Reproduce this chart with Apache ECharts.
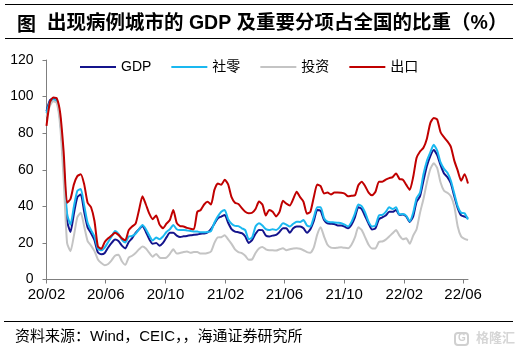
<!DOCTYPE html>
<html><head><meta charset="utf-8">
<script src="https://cdn.jsdelivr.net/npm/echarts@6/dist/echarts.min.js"></script>
<style>html,body{margin:0;padding:0;background:#fff}#c{width:530px;height:357px}</style>
</head><body><div id="c"></div>
<script>
const seriesNames = ['GDP', '社零', '投资', '出口'];
const tickDates = ['2020-02-01','2020-06-01','2020-10-01','2021-02-01','2021-06-01','2021-10-01','2022-02-01','2022-06-01'];
const tickLabels = ['20/02','20/06','20/10','21/02','21/06','21/10','22/02','22/06'];
const yTicks = [0, 20, 40, 60, 80, 100, 120];
const dates = [
'2020-02-01','2020-02-08','2020-02-15','2020-02-22','2020-02-29','2020-03-07','2020-03-14','2020-03-21','2020-03-28','2020-04-04','2020-04-11','2020-04-18','2020-04-25','2020-05-02','2020-05-09','2020-05-16','2020-05-23','2020-05-30','2020-06-06','2020-06-13','2020-06-20','2020-06-27','2020-07-04','2020-07-11','2020-07-18','2020-07-25','2020-08-01','2020-08-08','2020-08-15','2020-08-22','2020-08-29','2020-09-05','2020-09-12','2020-09-19','2020-09-26','2020-10-03','2020-10-10','2020-10-17','2020-10-24','2020-10-31','2020-11-07','2020-11-14','2020-11-21','2020-11-28','2020-12-05','2020-12-12','2020-12-19','2020-12-26',
'2021-01-02','2021-01-09','2021-01-16','2021-01-23','2021-01-30','2021-02-06','2021-02-13','2021-02-20','2021-02-27','2021-03-06','2021-03-13','2021-03-20','2021-03-27','2021-04-03','2021-04-10','2021-04-17','2021-04-24','2021-05-01','2021-05-08','2021-05-15','2021-05-22','2021-05-29','2021-06-05','2021-06-12','2021-06-19','2021-06-26','2021-07-03','2021-07-10','2021-07-17','2021-07-24','2021-07-31','2021-08-07','2021-08-14','2021-08-21','2021-08-28','2021-09-04','2021-09-11','2021-09-18','2021-09-25','2021-10-02','2021-10-09','2021-10-16','2021-10-23','2021-10-30','2021-11-06','2021-11-13','2021-11-20','2021-11-27','2021-12-04','2021-12-11','2021-12-18','2021-12-25',
'2022-01-01','2022-01-08','2022-01-15','2022-01-22','2022-01-29','2022-02-05','2022-02-12','2022-02-19','2022-02-26','2022-03-05','2022-03-12','2022-03-19','2022-03-26','2022-04-02','2022-04-09','2022-04-16','2022-04-23','2022-04-30','2022-05-07','2022-05-14','2022-05-21','2022-05-28','2022-06-04','2022-06-11'];

const gdp = [92,98,99,98,88,62,32,26,36,45,46.5,37,28.5,25.3,21.5,14.8,13.8,14.5,17.5,20,21.8,21,18.5,17,20.5,22.6,25.5,27.5,29.3,26,22,19.5,20,18.5,20,23,25.5,25.5,24,23.2,23.6,23.8,24.2,24.4,24.6,25,25.2,25.8,27.5,30.5,33.5,34.4,35.3,31,27.5,26.2,25.8,25.3,23.5,20,21.5,25,27.1,27,24,23.5,24,24.4,26,28,28,25.5,28,29,29,28,25.5,27.5,32,38,37.5,32.5,30.7,30.5,30.3,29.5,29.5,28.9,28,30,34,39.5,38.5,34.5,30.5,27.3,28,33,34,35,37,37,38,35.3,35.5,34.4,31.5,34.5,42.5,45.5,54,62,67.5,70.8,68,62.5,58,56,52.5,45.5,39,35,34.4,33.5];
const retail = [91,97,98.5,97.5,87,63,36,30,40,48.5,49.5,40.5,31,27,23.5,16.8,16,17.5,20.5,23.5,26.5,25,21.8,20.2,23.5,23.8,25,27.5,29.8,27.5,24,21.3,23,22,23.5,26,27.5,29.8,27.5,27.1,27.1,26.8,26.5,26.3,26.2,25.8,25.8,26,26.5,31,34.5,37,38,33,30.5,29.3,29.2,28,27,22,23,29,30.7,29.5,27.5,27,27.5,27,28.5,30.7,30,29,30.5,31.6,31.5,32.5,29.5,29,34,39.5,39.5,33.5,31.6,31.3,31.2,31,30.8,30,29,31.5,36,41,40,36.5,31.5,29,29.5,35,35.3,37,39.5,38.5,39.5,35.5,35.8,34.8,31.8,36.5,44.5,47.5,57.5,64.8,69.5,73.6,70.5,64,60.5,58.3,54,47,40,36.5,36.2,32.8];
const invest = [89,95,97.5,96.5,84,55,20,15.5,24,34,36.5,29,21,18.5,15.5,11,9,7.8,8.5,10.5,13,13.5,10,8,12,13,14.5,16.5,18,17,14.5,12.5,14,12,11.8,12,14,16.5,14.2,14.5,15,15.3,14.6,15,15,14.2,14.2,14.5,15.3,20,23,23.1,24.2,22,19.5,16.5,15,14.4,13,10.8,11,14.5,17,17.8,16.5,16,16,15.8,16.5,17.1,16,16.5,17,17.1,16.8,16,15,14.6,17.5,24.5,28.5,23.5,19,17.4,17.2,17.4,17.6,17.3,17.1,19,23,28.5,27,23,19,17,17,20.5,20.8,21.8,23.5,25.3,27,24,22,22.5,19.5,24,27.5,36.5,44,53,60.3,63.5,61,53,48.5,47.4,45.5,40,29,23.5,22.2,21.6];
const exportv = [84,97,99.5,99,91,70,42,44,52,56.5,57.5,52,42,39.5,32,18,16.8,20.5,22.5,24,25.6,24.4,22.5,21.5,27,29,30.5,38,45.5,41,36,33,35,30,28,30.5,32.5,38,31,29.2,29,28.2,27.8,27.5,37,38,41,42.5,41,49,52.5,51.8,54.5,52,45,42,41.3,39,37,36.2,36.5,38.5,42.6,41,35,38,37,34.5,37,43,41.5,40.5,44,48,45,42.5,36,37,45,52,51,47,47.5,46.5,47.5,47.5,47.4,47,45.5,45.8,46,51.5,53.5,51,47.5,46,48,53.5,53.5,54.6,55.4,56,58,55,54.5,51.7,49,56,66.5,70,72,77,85.5,88.3,87.5,80.5,77.8,75.5,72.5,65,59.5,54,57.5,52.5];

const colors = ['#14148c', '#1ab8f0', '#c4c4c4', '#c00000'];
const base = Date.UTC(2020, 1, 1);
function dayOf(s) { const p = s.split('-').map(Number); return (Date.UTC(p[0], p[1] - 1, p[2]) - base) / 864e5; }
const tickDays = tickDates.map(dayOf);
const lastDay = dayOf(dates[dates.length - 1]);
const allValues = [gdp, retail, invest, exportv];

const chart = echarts.init(document.getElementById('c'), null, { renderer: 'canvas' });
const latin = 'Arial, "Liberation Sans", "Noto Sans CJK SC", sans-serif';
chart.setOption({
  animation: false,
  backgroundColor: '#fff',
  color: colors,
  grid: { left: 46.5, right: 62, top: 60, bottom: 77.5, containLabel: false },
  legend: {
    data: seriesNames.map(n => ({ name: n, icon: 'rect' })),
    left: 80, top: 60, itemWidth: 36, itemHeight: 2, itemGap: 20, padding: 0,
    textStyle: { fontSize: 14, color: '#000', fontFamily: latin }
  },
  xAxis: {
    type: 'value', min: 0, max: lastDay,
    axisLine: { show: true, lineStyle: { color: '#7f7f7f', width: 1 } },
    axisTick: { show: true, length: 4, customValues: tickDays, lineStyle: { color: '#7f7f7f' } },
    axisLabel: {
      customValues: tickDays, margin: 8, fontSize: 15, color: '#000', fontFamily: latin,
      formatter: v => { const i = tickDays.indexOf(v); return i >= 0 ? tickLabels[i] : ''; }
    },
    splitLine: { show: false }
  },
  yAxis: {
    type: 'value', min: yTicks[0], max: yTicks[yTicks.length - 1], interval: 20,
    axisLine: { show: true, lineStyle: { color: '#7f7f7f', width: 1 } },
    axisTick: { show: true, length: 4, lineStyle: { color: '#7f7f7f' } },
    axisLabel: { margin: 13, fontSize: 14, color: '#000', fontFamily: latin },
    splitLine: { show: false }
  },
  series: seriesNames.map((n, si) => ({
    name: n, type: 'line', symbol: 'none', smooth: 0.2,
    lineStyle: { width: 2, color: colors[si] }, itemStyle: { color: colors[si] },
    data: dates.map((d, i) => [dayOf(d), allValues[si][i]])
  })),
  graphic: [
    { type: 'line', shape: { x1: 5, y1: 4.5, x2: 513, y2: 4.5 }, style: { stroke: '#000', lineWidth: 1 } },
    { type: 'line', shape: { x1: 5, y1: 38.5, x2: 513, y2: 38.5 }, style: { stroke: '#000', lineWidth: 1 } },
    { type: 'text', left: 17, top: 14, style: { text: '图', font: 'bold 19px "Noto Sans CJK SC"', fill: '#000' } },
    { type: 'text', left: 47, top: 14, style: { text: '出现病例城市的 GDP 及重要分项占全国的比重（%）', font: 'bold 19.5px Arial, "Noto Sans CJK SC"', fill: '#000' } },
    { type: 'line', shape: { x1: 4, y1: 321.5, x2: 513, y2: 321.5 }, style: { stroke: '#000', lineWidth: 1 } },
    { type: 'text', left: 15, top: 329, style: { text: '资料来源：Wind，CEIC，，海通证券研究所', font: '15px Arial, "Noto Sans CJK SC"', fill: '#000' } },
    { type: 'rect', shape: { x: 455, y: 333, width: 13, height: 12, r: 3 }, style: { fill: 'none', stroke: '#d0d0d0', lineWidth: 2 } },
    { type: 'text', left: 458, top: 333, style: { text: 'G', font: 'bold 10px Arial', fill: '#d0d0d0' } },
    { type: 'text', left: 476, top: 331, style: { text: '格隆汇', font: 'bold 13px "Noto Sans CJK SC"', fill: '#d6d6d6' } }
  ]
});
</script></body></html>
